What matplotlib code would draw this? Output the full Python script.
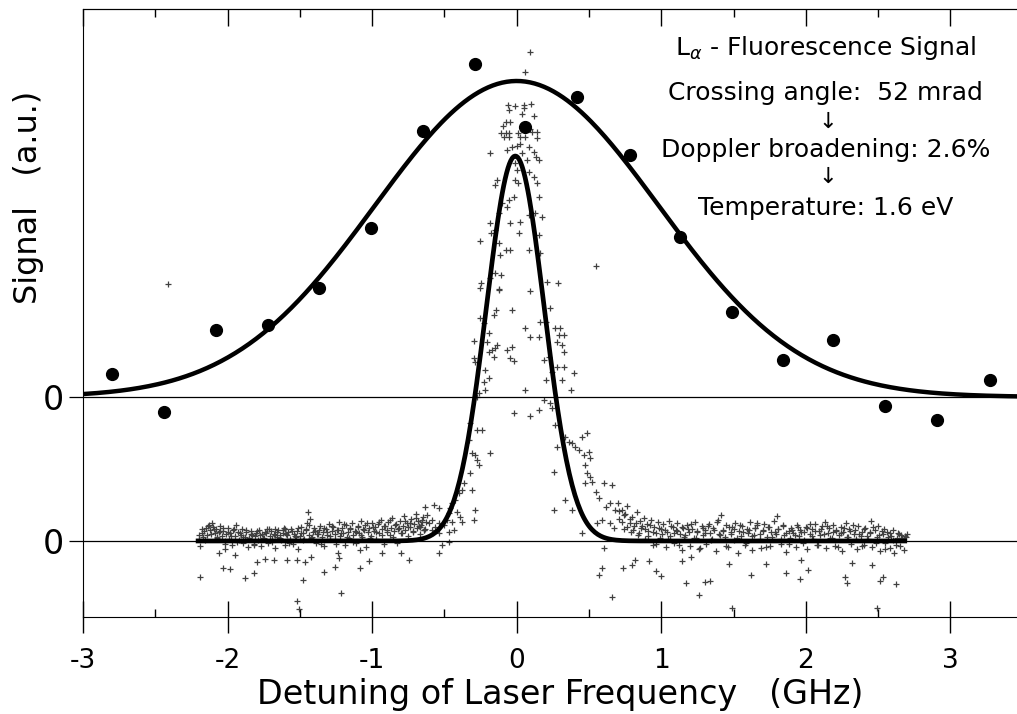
import numpy as np
import matplotlib
matplotlib.use("Agg")
import matplotlib.pyplot as plt

plt.rcParams['axes.unicode_minus'] = False
plt.rcParams['font.family'] = ['DejaVu Sans']

# upper trace: Lyman-alpha fluorescence (filled circles), offset baseline
upper_zero = 1.44
lya_x = [-2.80, -2.44, -2.08, -1.72, -1.37, -1.01, -0.65, -0.29, 0.06,
         0.42, 0.78, 1.13, 1.49, 1.84, 2.19, 2.55, 2.91, 3.27]
lya_y = [0.23, -0.15, 0.67, 0.72, 1.09, 1.69, 2.66, 3.33, 2.70,
         3.00, 2.42, 1.60, 0.85, 0.37, 0.57, -0.09, -0.23, 0.17]
# gaussian fits
broad_amp, broad_sigma = 3.16, 0.98
narrow_amp, narrow_center, narrow_sigma = 3.85, -0.01, 0.20
narrow_range = (-2.22, 2.70)

# lower trace: laser scan (+ markers)
peak_x = [0.095, 0.055, -0.060, -0.009, 0.048, 0.102, -0.051, 0.051, 0.118, 0.033,
          -0.074, -0.044, -0.095, -0.106, -0.074, -0.051, -0.085, -0.055, 0.009, 0.026,
          0.060, 0.106, 0.141, 0.141, 0.095, -0.182, -0.067, -0.033, 0.002, 0.026,
          0.083, 0.118, 0.134, 0.152, 0.037, 0.071, -0.009, 0.002, 0.083, 0.118,
          0.141, -0.009, 0.009, -0.136, -0.148, 0.152, -0.021, -0.055, -0.067, -0.102,
          -0.125, -0.044, 0.026, 0.083, 0.129, 0.175, -0.182, -0.175, -0.148, 0.014,
          0.152, -0.251, -0.120, -0.074, -0.044, 0.083, 0.164, -0.113, -0.148, -0.106,
          -0.182, -0.244, -0.251, -0.125, 0.090, 0.210, 0.286, 0.545,
          -0.125, -0.033, -0.143, -0.159, -0.251, -0.228, -0.194, -0.298, -0.206, -0.136,
          -0.171, -0.148, -0.194, -0.159, -0.067, -0.033, -0.044, -0.021, -0.298, -0.286,
          -0.217, -0.194, -0.228, -0.217, -0.263, -0.275,
          0.233, 0.164, 0.199, 0.268, 0.302, 0.291, 0.325, 0.279, 0.314, 0.325,
          0.187, 0.221, 0.279, 0.325, 0.244, 0.199, 0.314, 0.394, 0.372, 0.187,
          0.233, 0.244, 0.268, 0.279, 0.337, 0.360, 0.383, 0.406, 0.452, 0.487,
          0.429, 0.464, 0.498, 0.510, 0.475, 0.487, 0.510, 0.521, 0.475, 0.545,
          0.602, 0.660, 0.567, 0.614, 0.648, 0.683, 0.590, 0.648, 0.671, 0.556,
          0.452, 0.383, 0.337, 0.256, 0.256, 0.060, -0.021, 0.095, 0.152, 0.060,
          0.095, 0.152,
          -0.321, -0.332, -0.309, -0.275, -0.263, -0.286, -0.240, -0.275, -0.182, -0.321,
          -0.309, -0.367, -0.379, -0.401, -0.424, -0.448, -0.459, -0.471, -0.413, -0.390,
          -0.379, -0.448, -0.436, -0.482, -0.505, -0.540, -0.563, -0.586, -0.621, -0.632,
          -0.574, -0.540, -0.609, -0.655, -0.667, -0.644, -0.586, -0.540, -0.471, -0.286,
          -0.298, -0.540, -0.517, -0.471, 0.602, 0.590, 0.567, 0.660]
peak_y = [4.89, 4.69, 4.36, 4.35, 4.36, 4.37, 4.31, 4.33, 4.25, 4.27,
          4.19, 4.19, 4.15, 4.08, 4.08, 4.08, 4.04, 4.04, 4.08, 4.04,
          4.04, 4.09, 4.09, 4.03, 4.12, 3.88, 3.91, 3.94, 3.95, 3.97,
          3.94, 3.89, 3.84, 3.81, 3.88, 3.81, 3.78, 3.71, 3.69, 3.64,
          3.58, 3.61, 3.58, 3.61, 3.56, 3.44, 3.44, 3.41, 3.34, 3.38,
          3.28, 3.18, 3.19, 3.26, 3.28, 3.24, 3.18, 3.08, 3.11, 3.08,
          3.06, 3.00, 2.98, 2.91, 2.91, 2.91, 2.88, 2.86, 2.68, 2.66,
          2.63, 2.58, 2.53, 2.52, 2.50, 2.59, 2.58, 2.75,
          2.51, 2.31, 2.31, 2.26, 2.23, 2.18, 2.08, 2.00, 1.99, 1.96,
          1.91, 1.93, 1.89, 1.84, 1.91, 1.94, 1.83, 1.80, 1.83, 1.79,
          1.71, 1.63, 1.59, 1.51, 1.48, 1.44,
          2.33, 2.19, 2.19, 2.13, 2.13, 2.06, 2.06, 1.99, 1.96, 1.89,
          1.81, 1.84, 1.74, 1.74, 1.69, 1.61, 1.61, 1.68, 1.51, 1.41,
          1.38, 1.33, 1.16, 0.94, 1.04, 0.99, 0.98, 0.94, 1.04, 1.08,
          0.91, 0.86, 0.89, 0.83, 0.76, 0.68, 0.64, 0.59, 0.58, 0.49,
          0.58, 0.56, 0.43, 0.34, 0.38, 0.31, 0.21, 0.18, 0.13, 0.18,
          0.08, 0.31, 0.41, 0.69, 0.31, 1.51, 1.28, 1.25, 1.31, 2.13,
          2.04, 2.04,
          1.18, 1.01, 0.88, 0.81, 0.76, 0.86, 1.11, 1.11, 0.88, 0.68,
          0.51, 0.58, 0.51, 0.48, 0.41, 0.38, 0.33, 0.28, 0.29, 0.24,
          0.19, 0.19, 0.11, 0.21, 0.16, 0.18, 0.14, 0.21, 0.26, 0.34,
          0.36, 0.33, 0.18, 0.19, 0.14, 0.11, 0.11, 0.08, 0.09, 0.31,
          0.21, -0.12, -0.04, -0.01, -0.07, -0.27, -0.34, -0.56]

left_x = [-2.20, -2.19, -2.18, -2.17, -2.16, -2.15, -2.14, -2.13, -2.12, -2.11,
          -2.10, -2.09, -2.08, -2.07, -2.06, -2.05, -2.04, -2.03, -2.02, -2.01,
          -2.00, -1.99, -1.98, -1.97, -1.96, -1.95, -1.94, -1.93, -1.92, -1.91,
          -1.90, -1.89, -1.88, -1.87, -1.86, -1.85, -1.84, -1.83, -1.82, -1.81,
          -1.80, -1.79, -1.78, -1.77, -1.76, -1.75, -1.74, -1.73, -1.72, -1.71,
          -1.70, -1.69, -1.68, -1.67, -1.66, -1.65, -1.64, -1.63, -1.62, -1.61,
          -1.60, -1.59, -1.58, -1.57, -1.56, -1.55, -1.54, -1.53, -1.52, -1.51,
          -1.50, -1.49, -1.48, -1.47, -1.46, -1.45, -1.44, -1.43, -1.42, -1.41,
          -1.40, -1.39, -1.38, -1.37, -1.36, -1.35, -1.34, -1.33, -1.32, -1.31,
          -1.30, -1.29, -1.28, -1.27, -1.26, -1.25, -1.24, -1.23, -1.22, -1.21,
          -1.20, -1.19, -1.18, -1.17, -1.16, -1.15, -1.14, -1.13, -1.12, -1.11,
          -1.10, -1.09, -1.08, -1.07, -1.06, -1.05, -1.04, -1.03, -1.02, -1.01,
          -1.00, -0.99, -0.98, -0.97, -0.96, -0.95, -0.94, -0.93, -0.92, -0.91,
          -0.90, -0.89, -0.88, -0.87, -0.86, -0.85, -0.84, -0.83, -0.82, -0.81,
          -0.80, -0.79, -0.78, -0.77, -0.76, -0.75, -0.74, -0.73, -0.72, -0.71,
          -0.70, -0.69, -0.68, -0.67, -0.66, -0.65, -0.64, -0.63]
left_y = [0.02, -0.05, 0.08, 0.04, 0.10, 0.13, 0.06, 0.16, 0.11, 0.18,
          0.14, 0.08, 0.12, 0.03, 0.09, 0.15, 0.05, 0.10, -0.03, 0.07,
          0.13, 0.02, 0.08, -0.04, 0.11, 0.05, 0.16, 0.09, 0.01, 0.06,
          0.12, -0.02, 0.04, 0.09, -0.06, 0.03, 0.10, 0.06, -0.03, 0.05,
          0.08, 0.01, 0.11, -0.05, 0.07, 0.03, 0.09, 0.12, -0.02, 0.05,
          0.10, 0.02, 0.07, -0.07, 0.04, 0.11, 0.06, 0.01, 0.08, 0.13,
          -0.04, 0.06, 0.09, 0.02, 0.12, -0.03, 0.07, 0.04, 0.10, -0.08,
          0.05, 0.14, 0.08, 0.02, 0.11, 0.18, 0.06, 0.22, 0.03, 0.09,
          0.13, -0.02, 0.07, 0.11, 0.15, 0.04, 0.09, -0.05, 0.12, 0.06,
          0.17, 0.02, 0.10, 0.14, 0.07, -0.03, 0.11, 0.19, 0.05, 0.13,
          0.08, -0.04, 0.16, 0.09, 0.03, 0.12, 0.18, 0.06, 0.10, -0.02,
          0.14, 0.08, 0.20, 0.04, 0.12, 0.16, -0.06, 0.09, 0.13, 0.05,
          0.18, 0.10, 0.14, 0.02, 0.17, 0.08, 0.21, 0.12, -0.03, 0.15,
          0.09, 0.19, 0.06, 0.13, 0.23, 0.10, 0.16, -0.02, 0.12, 0.20,
          0.08, 0.15, 0.25, 0.11, 0.18, 0.05, 0.14, 0.22, 0.09, 0.17,
          0.27, 0.13, 0.20, 0.07, 0.16, 0.24, 0.11, 0.19]

left2_x = [-2.195, -2.175, -2.155, -2.135, -2.115, -2.095, -2.075, -2.055, -2.035, -2.015,
           -1.995, -1.975, -1.955, -1.935, -1.915, -1.895, -1.875, -1.855, -1.835, -1.815,
           -1.795, -1.775, -1.755, -1.735, -1.715, -1.695, -1.675, -1.655, -1.635, -1.615,
           -1.595, -1.575, -1.555, -1.535, -1.515, -1.495, -1.475, -1.455, -1.435, -1.415,
           -1.395, -1.375, -1.355, -1.335, -1.315, -1.295, -1.275, -1.255, -1.235, -1.215,
           -1.195, -1.175, -1.155, -1.135, -1.115, -1.095, -1.075, -1.055, -1.035, -1.015,
           -0.995, -0.975, -0.955, -0.935, -0.915, -0.895, -0.875, -0.855, -0.835, -0.815,
           -0.795, -0.775, -0.755, -0.735, -0.715, -0.695, -0.675, -0.655, -0.635]
left2_y = [0.06, 0.12, 0.01, 0.15, 0.07, 0.12, 0.04, 0.10, 0.13, 0.00,
           0.09, 0.05, 0.12, -0.01, 0.08, 0.04, 0.11, 0.02, 0.07, -0.04,
           0.10, 0.06, 0.03, 0.08, 0.12, -0.01, 0.06, 0.09, 0.03, 0.11,
           0.07, -0.02, 0.10, 0.05, 0.13, 0.08, 0.01, 0.12, 0.16, 0.04,
           0.10, 0.07, -0.03, 0.13, 0.09, 0.05, 0.15, 0.02, 0.11, 0.08,
           0.17, 0.04, 0.13, -0.01, 0.09, 0.15, 0.06, 0.11, 0.18, 0.03,
           0.14, 0.09, 0.19, 0.06, 0.15, 0.11, 0.21, 0.04, 0.17, 0.13,
           0.08, 0.20, 0.14, 0.18, 0.10, 0.23, 0.15, 0.21, 0.12]

right_x = [0.70, 0.71, 0.73, 0.74, 0.75, 0.76, 0.78, 0.79, 0.80, 0.81,
           0.83, 0.84, 0.85, 0.86, 0.88, 0.89, 0.90, 0.91, 0.93, 0.94,
           0.95, 0.96, 0.98, 0.99, 1.00, 1.01, 1.03, 1.04, 1.05, 1.06,
           1.08, 1.09, 1.10, 1.11, 1.13, 1.14, 1.15, 1.16, 1.18, 1.19,
           1.20, 1.21, 1.23, 1.24, 1.25, 1.26, 1.28, 1.29, 1.30, 1.31,
           1.33, 1.34, 1.35, 1.36, 1.38, 1.39, 1.40, 1.41, 1.43, 1.44,
           1.45, 1.46, 1.48, 1.49, 1.50, 1.51, 1.53, 1.54, 1.55, 1.56,
           1.58, 1.59, 1.60, 1.61, 1.63, 1.64, 1.65, 1.66, 1.68, 1.69,
           1.70, 1.71, 1.73, 1.74, 1.75, 1.76, 1.78, 1.79, 1.80, 1.81,
           1.83, 1.84, 1.85, 1.86, 1.88, 1.89, 1.90, 1.91, 1.93, 1.94,
           1.95, 1.96, 1.98, 1.99, 2.00, 2.01, 2.03, 2.04, 2.05, 2.06,
           2.08, 2.09, 2.10, 2.11, 2.13, 2.14, 2.15, 2.16, 2.18, 2.19,
           2.20, 2.21, 2.23, 2.24, 2.25, 2.26, 2.28, 2.29, 2.30, 2.31,
           2.33, 2.34, 2.35, 2.36, 2.38, 2.39, 2.40, 2.41, 2.43, 2.44,
           2.45, 2.46, 2.48, 2.49, 2.50, 2.51, 2.53, 2.54, 2.55, 2.56,
           2.58, 2.59, 2.60, 2.61, 2.63, 2.64, 2.65, 2.66, 2.68, 2.69, 2.70]
right_y = [0.38, 0.22, 0.31, 0.12, 0.27, 0.35, 0.18, 0.09, 0.24, 0.15,
           0.29, 0.06, 0.20, 0.13, 0.23, 0.02, 0.17, 0.10, 0.21, -0.04,
           0.14, 0.08, 0.19, 0.03, 0.12, 0.17, -0.06, 0.09, 0.20, 0.05,
           0.14, -0.02, 0.11, 0.18, 0.07, -0.09, 0.13, 0.04, 0.16, 0.09,
           -0.05, 0.12, 0.19, 0.03, 0.10, -0.08, 0.15, 0.06, 0.11, -0.03,
           0.17, 0.08, 0.02, 0.13, -0.10, 0.21, 0.07, 0.26, 0.11, 0.04,
           0.16, -0.06, 0.09, 0.14, 0.01, 0.18, -0.12, 0.10, 0.05, 0.15,
           -0.04, 0.12, 0.08, 0.19, -0.09, 0.06, 0.13, 0.16, 0.02, -0.07,
           0.11, 0.17, 0.04, 0.14, -0.05, 0.09, 0.20, 0.07, 0.25, 0.12,
           -0.03, 0.15, 0.06, -0.11, 0.10, 0.03, 0.13, 0.08, -0.06, 0.16,
           0.05, 0.11, -0.02, 0.09, 0.14, -0.08, 0.07, 0.12, 0.02, 0.17,
           -0.04, 0.10, 0.06, 0.15, 0.19, -0.07, 0.08, 0.13, 0.03, 0.16,
           -0.05, 0.10, 0.06, 0.14, -0.10, 0.09, 0.18, 0.04, 0.12, -0.03,
           0.07, 0.11, -0.08, 0.15, 0.05, 0.09, -0.04, 0.13, 0.02, 0.08,
           0.20, -0.06, 0.11, 0.04, 0.15, -0.10, 0.07, 0.12, -0.02, 0.09,
           -0.07, 0.05, 0.11, -0.12, 0.03, 0.08, -0.05, 0.06, -0.09, 0.04, 0.07]

right2_x = [0.705, 0.725, 0.745, 0.765, 0.785, 0.805, 0.825, 0.845, 0.865, 0.885,
            0.905, 0.925, 0.945, 0.965, 0.985, 1.005, 1.025, 1.045, 1.065, 1.085,
            1.105, 1.125, 1.145, 1.165, 1.185, 1.205, 1.225, 1.245, 1.265, 1.285,
            1.305, 1.325, 1.345, 1.365, 1.385, 1.405, 1.425, 1.445, 1.465, 1.485,
            1.505, 1.525, 1.545, 1.565, 1.585, 1.605, 1.625, 1.645, 1.665, 1.685,
            1.705, 1.725, 1.745, 1.765, 1.785, 1.805, 1.825, 1.845, 1.865, 1.885,
            1.905, 1.925, 1.945, 1.965, 1.985, 2.005, 2.025, 2.045, 2.065, 2.085,
            2.105, 2.125, 2.145, 2.165, 2.185, 2.205, 2.225, 2.245, 2.265, 2.285,
            2.305, 2.325, 2.345, 2.365, 2.385, 2.405, 2.425, 2.445, 2.465, 2.485,
            2.505, 2.525, 2.545, 2.565, 2.585, 2.605, 2.625, 2.645, 2.665, 2.685]
right2_y = [0.30, 0.19, 0.26, 0.14, 0.22, 0.11, 0.18, 0.08, 0.15, 0.12,
            0.05, 0.16, 0.09, -0.03, 0.13, 0.07, 0.11, 0.02, 0.15, 0.08,
            0.10, -0.04, 0.14, 0.06, 0.12, 0.17, 0.03, 0.09, -0.07, 0.13,
            0.08, 0.15, 0.01, 0.11, 0.19, 0.06, 0.10, -0.05, 0.14, 0.07,
            0.12, 0.03, 0.16, 0.09, -0.02, 0.11, 0.05, 0.13, 0.18, 0.07,
            0.10, -0.06, 0.14, 0.04, 0.09, 0.12, 0.02, 0.16, 0.08, -0.03,
            0.11, 0.06, 0.14, 0.09, 0.01, 0.13, 0.17, 0.05, 0.10, -0.04,
            0.12, 0.07, 0.15, 0.03, 0.09, 0.11, -0.06, 0.08, 0.13, 0.04,
            0.10, 0.16, 0.02, 0.07, -0.05, 0.12, 0.05, 0.09, 0.14, -0.02,
            0.06, 0.10, -0.08, 0.04, 0.08, 0.01, -0.04, 0.07, 0.03, 0.05]

# isolated points far below / above the band
stray_x = [-2.189, -2.032, -1.981, -1.878, -1.820, -2.062, -2.021, -1.947, -1.797, -1.739,
           -1.677, -1.590, -1.520, -1.462, -1.423, -1.478, -1.520, -1.505, -1.336, -1.255,
           -1.216, -1.239, -1.227, -1.087, -1.024, -1.082, -0.932, -0.801, -0.747, -1.443,
           -1.602, -1.669, 0.736, 0.794, 0.821, 0.914, 0.960, 0.999, 1.14, 1.172,
           1.202, 1.26, 1.299, 1.334, 1.467, 1.617, 1.721, 1.86, 1.958, 2.014,
           1.963, 2.27, 2.281, 2.32, 2.455, 2.512, 2.535, 2.621, 2.49, 1.486, -2.41]
stray_y = [-0.36, -0.27, -0.28, -0.37, -0.32, -0.12, -0.08, -0.14, -0.21, -0.18,
           -0.19, -0.19, -0.19, -0.21, -0.16, -0.39, -0.60, -0.68, -0.31, -0.26,
           -0.52, -0.12, -0.17, -0.27, -0.20, -0.09, -0.12, -0.12, -0.19, 0.29,
           0.12, 0.12, -0.27, -0.24, -0.19, -0.20, -0.30, -0.35, -0.20, -0.42,
           -0.16, -0.54, -0.41, -0.40, -0.23, -0.34, -0.23, -0.32, -0.38, -0.29,
           -0.19, -0.36, -0.42, -0.22, -0.24, -0.40, -0.36, -0.43, -0.67, -0.67, 2.57]

fig = plt.figure(figsize=(10.17, 7.14), dpi=100)
ax = fig.add_axes([0.0816, 0.1359, 0.9184, 0.8515])

#scan points
scan_x = peak_x + left_x + left2_x + right_x + right2_x + stray_x
scan_y = peak_y + left_y + left2_y + right_y + right2_y + stray_y
ax.plot(scan_x, scan_y, linestyle='none', marker='+', markersize=4.5,
        markeredgewidth=0.9, color='0.25')

#fit curves
xb = np.linspace(-3, 3.46, 400)
ax.plot(xb, upper_zero + broad_amp * np.exp(-xb**2 / (2 * broad_sigma**2)),
        color='black', lw=3.2)
xn = np.linspace(narrow_range[0], narrow_range[1], 500)
ax.plot(xn, narrow_amp * np.exp(-(xn - narrow_center)**2 / (2 * narrow_sigma**2)),
        color='black', lw=3.4, solid_capstyle='butt')

#fluorescence data points
ax.plot(lya_x, np.array(lya_y) + upper_zero, linestyle='none', marker='o',
        markersize=8.5, color='black')

#baselines
ax.axhline(0, color='black', lw=0.9)
ax.axhline(upper_zero, color='black', lw=0.9)

ax.set_xlim(-3, 3.46)
ax.set_ylim(-0.76, 5.32)
ax.spines['right'].set_visible(False)
for s in ['left', 'bottom', 'top']:
    ax.spines[s].set_linewidth(0.8)

ax.set_xticks([-3, -2, -1, 0, 1, 2, 3])
ax.set_xticks([-2.5, -1.5, -0.5, 0.5, 1.5, 2.5], minor=True)
ax.tick_params(axis='x', which='major', direction='inout', length=23, width=1.0,
               labelsize=19, pad=11, top=False)
ax.tick_params(axis='x', which='minor', direction='in', length=6, width=1.0, top=False)
ax.set_yticks([0, upper_zero])
ax.set_yticklabels(['0', '0'])
ax.tick_params(axis='y', which='major', direction='out', length=10, width=0.9,
               labelsize=24, pad=4)

top = ax.secondary_xaxis('top')
top.set_xticks([-3, -2, -1, 0, 1, 2, 3])
top.set_xticks([-2.5, -1.5, -0.5, 0.5, 1.5, 2.5], minor=True)
top.tick_params(which='major', direction='in', length=12, width=1.0, labeltop=False)
top.tick_params(which='minor', direction='in', length=6, width=1.0)
top.spines['top'].set_linewidth(0.8)

ax.set_xlabel('Detuning of Laser Frequency   (GHz)', fontsize=24)
ax.xaxis.set_label_coords(0.511, -0.100)
ax.set_ylabel('Signal   (a.u.)', fontsize=23)
ax.yaxis.set_label_coords(-0.042, 0.69)

#annotation block
tx = 0.795
ax.text(tx, 0.936, r'L$_\alpha$ - Fluorescence Signal', transform=ax.transAxes,
        ha='center', va='center', fontsize=18)
ax.text(tx, 0.862, 'Crossing angle:  52 mrad', transform=ax.transAxes,
        ha='center', va='center', fontsize=18)
ax.text(tx + 0.002, 0.815, '\u2193', transform=ax.transAxes,
        ha='center', va='center', fontsize=16)
ax.text(tx, 0.768, 'Doppler broadening: 2.6%', transform=ax.transAxes,
        ha='center', va='center', fontsize=18)
ax.text(tx + 0.002, 0.724, '\u2193', transform=ax.transAxes,
        ha='center', va='center', fontsize=16)
ax.text(tx, 0.673, 'Temperature: 1.6 eV', transform=ax.transAxes,
        ha='center', va='center', fontsize=18)

fig.savefig('out.png', dpi=100)
